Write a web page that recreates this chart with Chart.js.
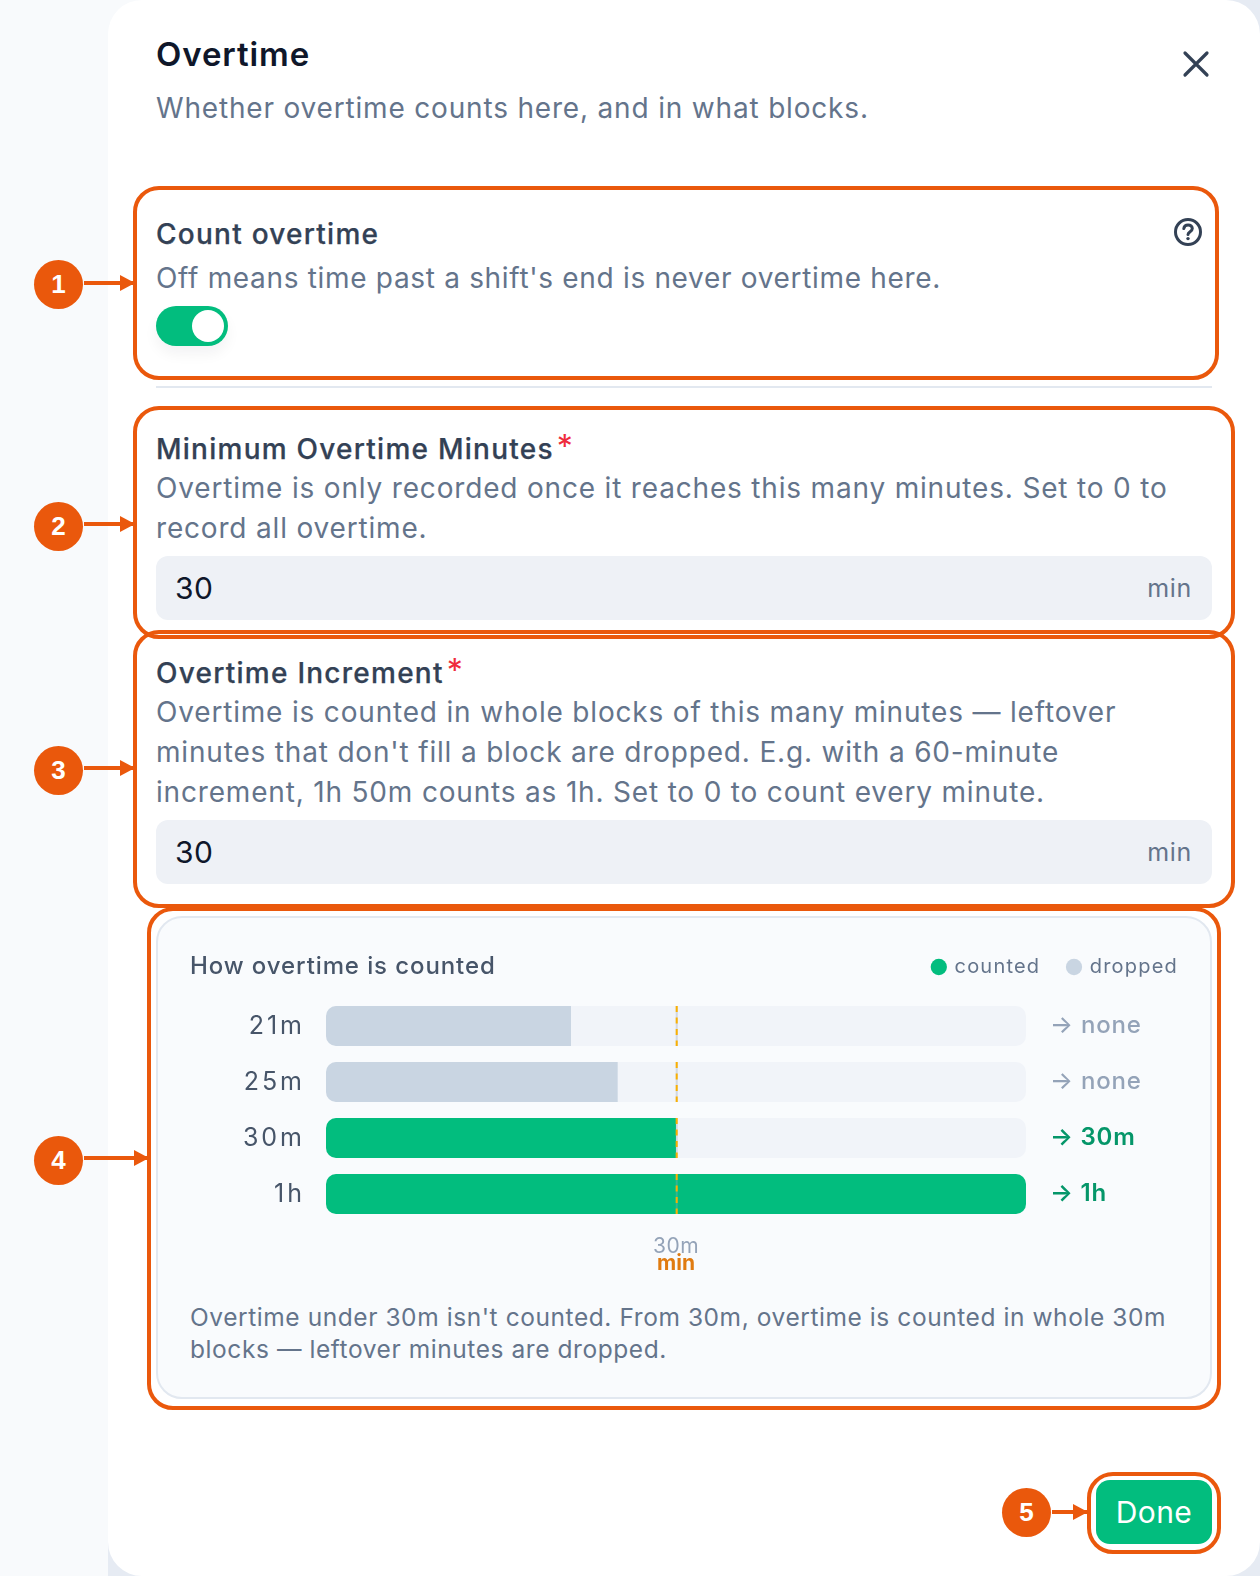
<!DOCTYPE html>
<html><head><meta charset="utf-8">
<script src="https://cdn.jsdelivr.net/npm/chart.js@4/dist/chart.umd.min.js"></script>
<style>
html,body{margin:0;padding:0;width:1260px;height:1576px;overflow:hidden;background:#f8fafc;font-family:Inter,sans-serif}
.a{position:absolute;box-sizing:border-box}
.t{position:absolute;white-space:nowrap;transform:translateY(-50%);line-height:1}
.body{font-size:28px;color:#64748b;letter-spacing:.82px}
.lab{font-size:28px;font-weight:500;color:#334155;letter-spacing:1.25px;-webkit-text-stroke:.25px #334155}
.box{position:absolute;box-sizing:border-box;border:4px solid #ea580c;border-radius:26px}
.num{position:absolute;width:49px;height:49px;border-radius:50%;background:#ea580c;color:#fff;font:700 26px "Liberation Sans",sans-serif;display:flex;align-items:center;justify-content:center}
.arr{position:absolute;height:4px;background:#ea580c}
.arr:after{content:"";position:absolute;right:-1px;top:-6px;border-left:15px solid #ea580c;border-top:8px solid transparent;border-bottom:8px solid transparent}
.inp{position:absolute;left:156px;width:1056px;height:64px;background:#eef1f6;border-radius:12px}
.star{color:#ef2b3c;font-size:32px;margin-left:3px;letter-spacing:0;-webkit-text-stroke:0;font-weight:400;position:relative;top:-1px}
.cor{position:absolute;width:40px;height:40px;background:#e6ebf3}
.m{letter-spacing:.7px}
</style></head><body>
<div class="cor" style="left:1220px;top:0"></div>
<div class="cor" style="left:1220px;top:1536px"></div>
<div class="cor" style="left:108px;top:1536px"></div>
<div class="a" style="left:108px;top:0;width:1152px;height:1576px;background:#fff;border-radius:34px"></div>

<div class="t" style="left:156px;top:54px;font-size:33px;font-weight:600;color:#0f172a;letter-spacing:.9px">Overtime</div>
<div class="t body" style="left:156px;top:108px">Whether overtime counts here, and in what blocks.</div>
<svg class="a" style="left:1180px;top:48px" width="32" height="32" viewBox="0 0 32 32"><path d="M5 5L27 27M27 5L5 27" stroke="#334155" stroke-width="3.2" stroke-linecap="round"/></svg>

<div class="t lab" style="left:156px;top:234px">Count overtime</div>
<div class="t body" style="left:156px;top:278px;letter-spacing:.68px">Off means time past a shift's end is never overtime here.</div>
<svg class="a" style="left:1173px;top:217px" width="30" height="30" viewBox="0 0 30 30"><circle cx="15" cy="15" r="12.500" fill="none" stroke="#334155" stroke-width="3"/><path d="M10.800 11.600c.3-2.400 2-3.600 4.300-3.600 2.500 0 4.200 1.500 4.200 3.500 0 3.200-4.300 3.200-4.300 6.100" fill="none" stroke="#334155" stroke-width="3" stroke-linecap="round"/><circle cx="15" cy="21.600" r="1.700" fill="#334155"/></svg>
<div class="a" style="left:156px;top:306px;width:72px;height:40px;border-radius:20px;background:#02bd7e;box-shadow:0 8px 14px rgba(15,23,42,.05)"></div>
<div class="a" style="left:192px;top:310px;width:32px;height:32px;border-radius:50%;background:#fff"></div>
<div class="a" style="left:156px;top:386px;width:1056px;height:2px;background:#e2e8f0"></div>

<div class="t lab" style="left:156px;top:448px">Minimum Overtime Minutes<span class="star">*</span></div>
<div class="t body" style="left:156px;top:488px">Overtime is only recorded once it reaches this many minutes. Set to 0 to</div>
<div class="t body" style="left:156px;top:528px">record all overtime.</div>
<div class="inp" style="top:556px"></div>
<div class="t" style="left:175px;top:588px;font-size:30px;color:#0f172a;letter-spacing:.5px">30</div>
<div class="t m" style="right:68px;top:588px;font-size:25px;color:#64748b">min</div>

<div class="t lab" style="left:156px;top:672px">Overtime Increment<span class="star">*</span></div>
<div class="t body" style="left:156px;top:712px">Overtime is counted in whole blocks of this many minutes — leftover</div>
<div class="t body" style="left:156px;top:752px">minutes that don't fill a block are dropped. E.g. with a 60-minute</div>
<div class="t body" style="left:156px;top:792px">increment, 1h 50m counts as 1h. Set to 0 to count every minute.</div>
<div class="inp" style="top:820px"></div>
<div class="t" style="left:175px;top:852px;font-size:30px;color:#0f172a;letter-spacing:.5px">30</div>
<div class="t m" style="right:68px;top:852px;font-size:25px;color:#64748b">min</div>

<div class="a" style="left:156px;top:916px;width:1056px;height:483px;background:#f9fbfd;border:2px solid #e2e8f0;border-radius:26px"></div>
<div class="t" style="left:190px;top:966px;font-size:24px;font-weight:500;color:#475569;letter-spacing:.9px;z-index:3">How overtime is counted</div>
<div class="a" style="left:157px;top:923px;width:1055px;height:353px"><canvas id="c"></canvas></div>
<div class="t" style="left:190px;top:1317px;font-size:24.500px;color:#64748b;letter-spacing:.57px">Overtime under 30m isn't counted. From 30m, overtime is counted in whole 30m</div>
<div class="t" style="left:190px;top:1349px;font-size:24.500px;color:#64748b;letter-spacing:.57px">blocks — leftover minutes are dropped.</div>

<div class="a" style="left:1096px;top:1480px;width:116px;height:64px;background:#02bd7e;border-radius:14px"></div>
<div class="t" style="left:1096px;width:116px;text-align:center;top:1512px;font-size:30px;font-weight:400;letter-spacing:.4px;color:#fff">Done</div>

<div class="box" style="left:133px;top:186px;width:1086px;height:194px"></div>
<div class="box" style="left:133px;top:406px;width:1102px;height:233px"></div>
<div class="box" style="left:133px;top:630px;width:1102px;height:278px"></div>
<div class="box" style="left:147px;top:907px;width:1074px;height:503px"></div>
<div class="box" style="left:1087px;top:1472px;width:134px;height:82px"></div>

<div class="num" style="left:34px;top:260px">1</div><div class="arr" style="left:84px;top:281px;width:50px"></div>
<div class="num" style="left:34px;top:502px">2</div><div class="arr" style="left:84px;top:522px;width:50px"></div>
<div class="num" style="left:34px;top:746px">3</div><div class="arr" style="left:84px;top:766px;width:50px"></div>
<div class="num" style="left:34px;top:1136px">4</div><div class="arr" style="left:84px;top:1156px;width:64px"></div>
<div class="num" style="left:1002px;top:1488px">5</div><div class="arr" style="left:1052px;top:1510px;width:35px"></div>

<script>
const categories = ["21m", "25m", "30m", "1h"];
const outcomes = ["→ none", "→ none", "→ 30m", "→ 1h"];
const countedMinutes = [0, 0, 30, 60];
const droppedMinutes = [21, 25, 0, 0];
const trackMinutes = [60, 60, 60, 60];
const thresholdMinutes = 30;
const axisMax = 60;

const GREEN = "#02bd7e", GREY = "#c9d5e2", TRACK = "#f1f4f9";
const FONT = "Inter";

/* Chart.js has no letter-spacing option: set it on the context around text drawing. */
const spaced = (obj, method, ctx, spacing) => {
  const orig = obj[method];
  obj[method] = function (...args) {
    const prev = ctx.letterSpacing;
    ctx.letterSpacing = spacing;
    const r = orig.apply(this, args);
    ctx.letterSpacing = prev;
    return r;
  };
};
const textTuning = {
  id: "textTuning",
  beforeLayout(chart) {
    const lg = chart.legend;
    if (lg && !lg._tuned) {
      lg._tuned = true;
      spaced(lg, "draw", chart.ctx, "1.2px");
      spaced(lg, "fit", chart.ctx, "1.2px");
      const fit = lg.fit;
      lg.fit = function () { fit.call(this); this.height += 11; };
    }
  },
  afterLayout(chart) {
    const gaps = { x: "0.5px", y: "3px", y2: "0.8px" };
    Object.keys(gaps).forEach(id => {
      const s = chart.scales[id];
      if (!s._tuned) { s._tuned = true; spaced(s, "drawLabels", chart.ctx, gaps[id]); }
    });
  }
};

const thresholdLine = {
  id: "thresholdLine",
  afterDatasetsDraw(chart) {
    const x = chart.scales.x.getPixelForValue(thresholdMinutes) + 0.7;
    const ctx = chart.ctx;
    ctx.save();
    ctx.lineWidth = 2;
    chart.getDatasetMeta(2).data.forEach(bar => {
      const top = bar.y - bar.height / 2, bottom = bar.y + bar.height / 2;
      ctx.strokeStyle = "rgba(148,163,184,.35)";
      ctx.setLineDash([]);
      ctx.beginPath(); ctx.moveTo(x, top); ctx.lineTo(x, bottom); ctx.stroke();
      ctx.strokeStyle = "#fbb000";
      ctx.setLineDash([6, 5.5]);
      ctx.beginPath(); ctx.moveTo(x, top); ctx.lineTo(x, bottom); ctx.stroke();
    });
    ctx.restore();
  }
};

new Chart(document.getElementById("c"), {
  type: "bar",
  plugins: [textTuning, thresholdLine],
  data: {
    labels: categories,
    datasets: [
      { label: "counted", data: countedMinutes, backgroundColor: GREEN, order: 1,
        borderRadius: c => ({ topLeft: 10, bottomLeft: 10, topRight: c.raw >= axisMax ? 10 : 0, bottomRight: c.raw >= axisMax ? 10 : 0 }) },
      { label: "dropped", data: droppedMinutes, backgroundColor: GREY, order: 1,
        borderRadius: { topLeft: 10, bottomLeft: 10, topRight: 0, bottomRight: 0 } },
      { label: "track", data: trackMinutes, backgroundColor: TRACK, order: 2, borderRadius: 10 }
    ]
  },
  options: {
    indexAxis: "y",
    responsive: true,
    maintainAspectRatio: false,
    animation: false,
    layout: { padding: { top: 6, left: 0, right: 6, bottom: 0 } },
    datasets: { bar: { grouped: false, barPercentage: 40 / 56, categoryPercentage: 1, borderSkipped: false } },
    plugins: {
      tooltip: { enabled: false },
      legend: {
        position: "top", align: "end",
        labels: {
          usePointStyle: true, pointStyle: "circle", boxWidth: 11.5, boxHeight: 11.5, padding: 28,
          color: "#64748b", font: { family: FONT, size: 20 },
          filter: i => i.text !== "track"
        }
      }
    },
    scales: {
      x: {
        type: "linear", min: 0, max: axisMax,
        afterBuildTicks: s => { s.ticks = [{ value: thresholdMinutes }]; },
        afterFit: s => { s.height = 54; },
        ticks: { callback: v => v + "m", color: "#94a3b8", font: { family: FONT, size: 21 }, padding: 4, maxRotation: 0 },
        grid: { display: false }, border: { display: false },
        title: { display: true, text: "min", color: "#e07b10", font: { family: FONT, size: 21, weight: "700" }, padding: 0 }
      },
      y: {
        type: "category", position: "left",
        afterFit: s => { s.width = 169; },
        ticks: { color: "#475569", font: { family: FONT, size: 25 }, padding: 13 },
        grid: { display: false }, border: { display: false }
      },
      y2: {
        type: "category", position: "right", labels: outcomes,
        afterFit: s => { s.width = 180; },
        ticks: {
          crossAlign: "near", padding: 16,
          color: c => countedMinutes[c.index] > 0 ? "#059669" : "#94a3b8",
          font: c => ({ family: FONT, size: 24, weight: countedMinutes[c.index] > 0 ? "600" : "500" })
        },
        grid: { display: false }, border: { display: false }
      }
    }
  }
});
</script>
</body></html>
